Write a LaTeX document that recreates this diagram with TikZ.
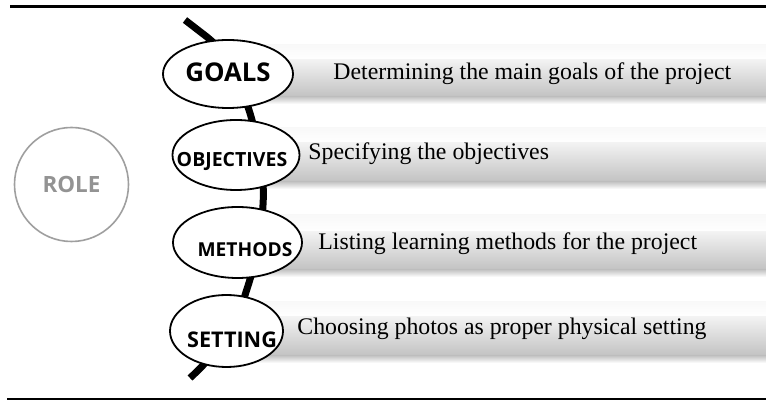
\documentclass[tikz,border=0pt]{standalone}
\usepackage{fontspec}
\setmainfont{Liberation Serif}
\newfontfamily\tagfont{Open Sans}
\tikzset{
    spine/.style={line width=3.5pt},
    tag/.style={draw, line width=0.9pt, fill=white},
    bar/.style={top color=gray!10, middle color=gray!22, bottom color=gray!48},
    barshadow/.style={top color=gray!45, bottom color=white},
    barglow/.style={top color=gray!5, bottom color=white},
    tagtext/.style={anchor=base, inner sep=0pt},
    desc/.style={anchor=base west, inner sep=0pt, font=\fontsize{11.9}{13}\selectfont},
}
\begin{document}
\begin{tikzpicture}[x=0.5pt, y=-0.5pt]
        \useasboundingbox (0,0) rectangle (766,400);
        \draw[line width=1.6pt] (10,6.5) -- (766,6.5);
        \draw[line width=0.8pt] (7,399) -- (766,399);
        \node[circle, draw=gray!75, line width=0.8pt, minimum size=57pt, text=gray!85, font=\tagfont\bfseries\fontsize{11.2}{13}\selectfont] (role) at (71.5,184.5) {ROLE};
        \shade[barglow] (228,45) rectangle (766,60);
        \shade[bar] (228,60) rectangle (766,97);
        \shade[barshadow] (228,97) rectangle (766,104);
        \shade[barglow] (236,128) rectangle (766,143);
        \shade[bar] (236,143) rectangle (766,182);
        \shade[barshadow] (236,182) rectangle (766,189);
        \shade[barglow] (238,215) rectangle (766,232);
        \shade[bar] (238,232) rectangle (766,270);
        \shade[barshadow] (238,270) rectangle (766,277);
        \shade[barglow] (226,302) rectangle (766,317);
        \shade[bar] (226,317) rectangle (766,356);
        \shade[barshadow] (226,356) rectangle (766,363);
        \coordinate (spineTop) at (185,20);
        \coordinate (spineEnd) at (190,378);
        \draw[spine] (spineTop) -- (207,37) .. controls (230,55) and (245,95) .. (252,120)
            .. controls (258,145) and (265,175) .. (263,205)
            .. controls (261,240) and (255,265) .. (246,292)
            .. controls (235,330) and (215,355) .. (spineEnd);
        \draw[tag] (228,74) ellipse (65 and 34);
        \draw[tag] (236,155) ellipse (63.5 and 35);
        \draw[tag] (237.5,242.5) ellipse (64.5 and 35.5);
        \draw[tag] (226.5,331) ellipse (56.5 and 36);
        \node[tagtext, font=\tagfont\bfseries\fontsize{12.9}{14}\selectfont] (goals) at (228,82) {GOALS};
        \node[tagtext, font=\tagfont\bfseries\fontsize{9.75}{12}\selectfont] (objectives) at (232,167) {OBJECTIVES};
        \node[tagtext, font=\tagfont\bfseries\fontsize{9.6}{12}\selectfont] (methods) at (245,257) {METHODS};
        \node[tagtext, font=\tagfont\bfseries\fontsize{10.8}{12}\selectfont] (setting) at (232,348) {SETTING};
        \node[desc] (goalsDesc) at (333,80) {Determining the main goals of the project};
        \node[desc] (objectivesDesc) at (308,160) {Specifying the objectives};
        \node[desc] (methodsDesc) at (318,250) {Listing learning methods for the project};
        \node[desc] (settingDesc) at (297,335) {Choosing photos as proper physical setting};
    \end{tikzpicture}
\end{document}
